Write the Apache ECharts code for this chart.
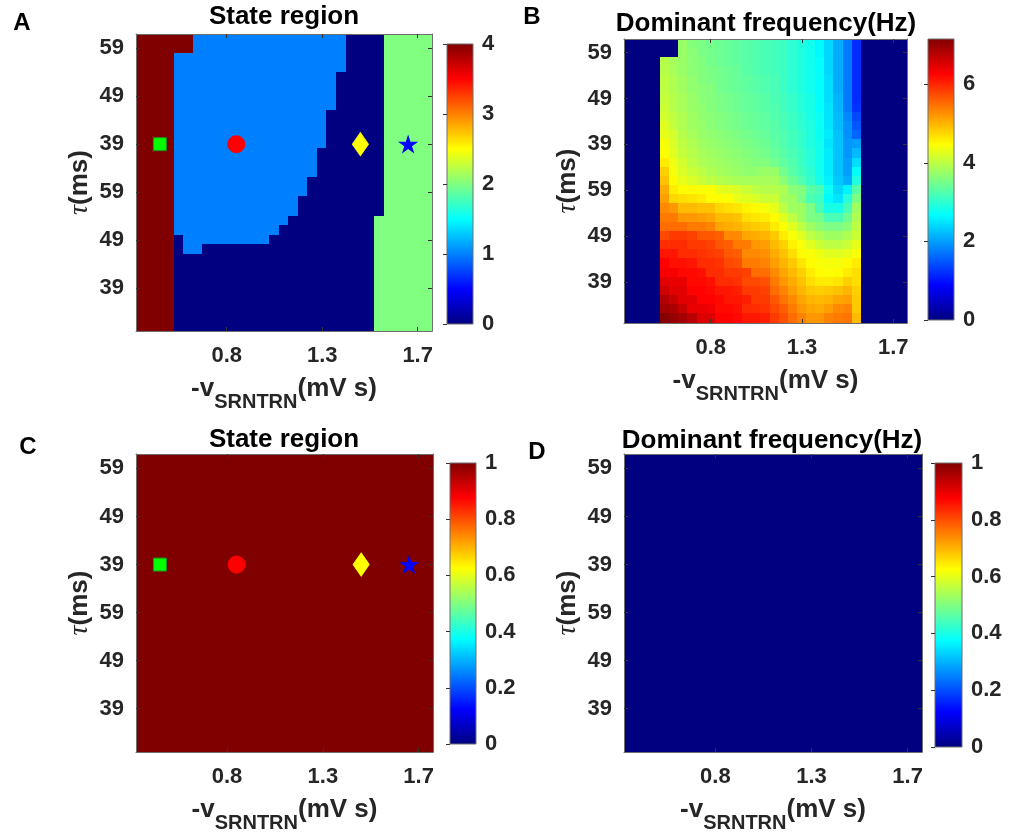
<!DOCTYPE html>
<html>
<head>
<meta charset="utf-8">
<script src="https://cdn.jsdelivr.net/npm/echarts@6/dist/echarts.min.js"></script>
<style>
  html, body { margin: 0; padding: 0; background: #ffffff; }
  #chart { width: 1010px; height: 837px; }
</style>
</head>
<body>
<div id="chart"></div>
<script>
// ---- grid dimensions and tick labels ----
const nCols = 31;
const nRows = 31;
const xTickIndex = [9, 19, 29];
const xTickText = ['0.8', '1.3', '1.7'];
const yTickIndex = [4, 9, 14, 19, 24, 29];
const yTickText = ['39', '49', '59', '39', '49', '59'];

// ---- state region (panel A), rows from top, as [state, run length] ----
const stateARuns = [
  [[4, 6], [1, 16], [0, 4], [2, 5]],
  [[4, 6], [1, 16], [0, 4], [2, 5]],
  [[4, 4], [1, 18], [0, 4], [2, 5]],
  [[4, 4], [1, 18], [0, 4], [2, 5]],
  [[4, 4], [1, 17], [0, 5], [2, 5]],
  [[4, 4], [1, 17], [0, 5], [2, 5]],
  [[4, 4], [1, 17], [0, 5], [2, 5]],
  [[4, 4], [1, 17], [0, 5], [2, 5]],
  [[4, 4], [1, 16], [0, 6], [2, 5]],
  [[4, 4], [1, 16], [0, 6], [2, 5]],
  [[4, 4], [1, 16], [0, 6], [2, 5]],
  [[4, 4], [1, 16], [0, 6], [2, 5]],
  [[4, 4], [1, 15], [0, 7], [2, 5]],
  [[4, 4], [1, 15], [0, 7], [2, 5]],
  [[4, 4], [1, 15], [0, 7], [2, 5]],
  [[4, 4], [1, 14], [0, 8], [2, 5]],
  [[4, 4], [1, 14], [0, 8], [2, 5]],
  [[4, 4], [1, 13], [0, 9], [2, 5]],
  [[4, 4], [1, 13], [0, 9], [2, 5]],
  [[4, 4], [1, 12], [0, 9], [2, 6]],
  [[4, 4], [1, 11], [0, 10], [2, 6]],
  [[4, 4], [0, 1], [1, 9], [0, 11], [2, 6]],
  [[4, 4], [0, 1], [1, 2], [0, 18], [2, 6]],
  [[4, 4], [0, 21], [2, 6]],
  [[4, 4], [0, 21], [2, 6]],
  [[4, 4], [0, 21], [2, 6]],
  [[4, 4], [0, 21], [2, 6]],
  [[4, 4], [0, 21], [2, 6]],
  [[4, 4], [0, 21], [2, 6]],
  [[4, 4], [0, 21], [2, 6]],
  [[4, 4], [0, 21], [2, 6]]
];

// ---- dominant frequency in Hz (panel B), rows from top ----
const freqB = [
  [0,0,0,0, 0,0,3.75,3.6,3.55,3.5,3.45,3.4,3.35,3.3,3.25,3.2,3.15,3.1,3.0,2.9,2.8,2.65,2.4,2.1,1.75,1.2, 0,0,0,0,0],
  [0,0,0,0, 0,0,3.75,3.65,3.55,3.5,3.45,3.4,3.35,3.3,3.25,3.2,3.15,3.1,3.0,2.9,2.8,2.65,2.4,2.1,1.75,1.2, 0,0,0,0,0],
  [0,0,0,0, 3.95,3.85,3.75,3.65,3.6,3.5,3.45,3.4,3.35,3.3,3.25,3.2,3.15,3.1,3.0,2.9,2.8,2.7,2.4,2.1,1.75,1.2, 0,0,0,0,0],
  [0,0,0,0, 3.95,3.85,3.75,3.65,3.6,3.55,3.5,3.45,3.4,3.3,3.25,3.2,3.15,3.1,3.0,2.9,2.8,2.7,2.4,2.1,1.75,1.2, 0,0,0,0,0],
  [0,0,0,0, 4.0,3.9,3.8,3.7,3.6,3.55,3.5,3.45,3.4,3.35,3.3,3.25,3.2,3.1,3.0,2.9,2.8,2.7,2.45,2.1,1.75,1.2, 0,0,0,0,0],
  [0,0,0,0, 4.0,3.9,3.8,3.7,3.65,3.6,3.5,3.45,3.4,3.35,3.3,3.25,3.2,3.1,3.0,2.9,2.8,2.7,2.45,2.1,1.75,1.2, 0,0,0,0,0],
  [0,0,0,0, 4.05,3.95,3.85,3.75,3.65,3.6,3.55,3.5,3.45,3.4,3.35,3.3,3.2,3.15,3.05,2.95,2.85,2.7,2.45,2.15,1.75,1.2, 0,0,0,0,0],
  [0,0,0,0, 4.1,3.95,3.85,3.75,3.7,3.6,3.55,3.5,3.45,3.4,3.35,3.3,3.25,3.15,3.05,2.95,2.85,2.7,2.5,2.15,1.75,1.25, 0,0,0,0,0],
  [0,0,0,0, 4.15,4.0,3.9,3.8,3.7,3.65,3.6,3.55,3.5,3.45,3.4,3.35,3.25,3.2,3.1,3.0,2.85,2.75,2.5,2.2,1.85,1.4, 0,0,0,0,0],
  [0,0,0,0, 4.25,4.05,3.9,3.8,3.75,3.65,3.6,3.55,3.5,3.45,3.4,3.35,3.3,3.2,3.1,3.0,2.9,2.75,2.5,2.2,1.9,1.5, 0,0,0,0,0],
  [0,0,0,0, 4.3,4.15,3.95,3.85,3.75,3.7,3.65,3.6,3.55,3.5,3.45,3.4,3.3,3.25,3.15,3.05,2.9,2.75,2.55,2.25,1.9,1.6, 0,0,0,0,0],
  [0,0,0,0, 4.4,4.2,4.0,3.9,3.8,3.75,3.7,3.65,3.6,3.55,3.5,3.45,3.35,3.25,3.15,3.05,2.9,2.8,2.5,2.25,1.95,2.0, 0,0,0,0,0],
  [0,0,0,0, 4.45,4.25,4.05,3.95,3.85,3.8,3.75,3.7,3.65,3.6,3.55,3.5,3.4,3.3,3.2,3.1,2.95,2.8,2.55,2.25,1.95,2.2, 0,0,0,0,0],
  [0,0,0,0, 4.6,4.35,4.15,4.0,3.9,3.85,3.8,3.75,3.7,3.65,3.6,3.6,3.5,3.35,3.25,3.1,2.95,2.8,2.55,2.25,2.0,2.45, 0,0,0,0,0],
  [0,0,0,0, 4.8,4.4,4.2,4.1,4.0,3.9,3.85,3.8,3.75,3.7,3.7,3.75,3.75,3.5,3.3,3.15,3.0,2.8,2.55,2.25,2.0,2.7, 0,0,0,0,0],
  [0,0,0,0, 4.9,4.5,4.3,4.2,4.1,4.0,3.95,3.9,3.85,3.85,3.85,3.85,3.85,3.65,3.45,3.25,3.05,2.85,2.6,2.3,2.1,2.9, 0,0,0,0,0],
  [0,0,0,0, 5.05,4.6,4.5,4.5,4.45,4.45,4.3,4.25,4.2,4.1,4.0,3.95, 3.95,3.9,3.65,3.6,3.3,3.2,2.75,2.4,2.6,3.3, 0,0,0,0,0],
  [0,0,0,0, 5.15,4.75,4.7,4.65,4.6,4.5,4.5,4.45,4.3,4.25,4.2,4.1, 4.1,3.85,3.8,3.55,3.2,3.1,2.65,2.5,2.95,3.55, 0,0,0,0,0],
  [0,0,0,0, 5.3,5.2,4.95,4.95,4.9,4.9,4.75,4.7,4.65,4.55,4.5,4.4, 4.3,4.0,3.8,3.8,3.55,3.2,2.85,2.85,3.2,3.8, 0,0,0,0,0],
  [0,0,0,0, 5.4,5.4,5.2,5.2,5.15,5.1,4.95,4.95,4.9,4.7,4.65,4.6, 4.5,4.25,4.0,3.8,3.55,3.5,3.2,3.2,3.45,3.9, 0,0,0,0,0],
  [0,0,0,0, 5.5,5.5,5.5,5.4,5.4,5.35,5.1,5.05,5.0,4.9,4.85,4.8, 4.6,4.45,4.25,4.0,3.8,3.65,3.55,3.55,3.65,4.0, 0,0,0,0,0],
  [0,0,0,0, 5.75,5.85,5.85,5.8,5.65,5.65,5.6,5.3,5.3,5.1,5.05,5.0, 4.85,4.6,4.42,4.25,4.0,3.9,3.8,3.8,3.9,4.1, 0,0,0,0,0],
  [0,0,0,0, 5.95,5.95,5.95,5.85,5.85,5.8,5.65,5.6,5.4,5.4,5.2,5.15, 4.95,4.8,4.55,4.42,4.25,4.1,4.0,4.0,4.1,4.3, 0,0,0,0,0],
  [0,0,0,0, 6.1,6.1,5.95,5.95,5.9,5.85,5.8,5.65,5.6,5.3,5.3,5.25, 5.05,4.9,4.7,4.5,4.42,4.35,4.25,4.25,4.3,4.42, 0,0,0,0,0],
  [0,0,0,0, 6.25,6.15,6.15,6.1,5.95,5.95,5.9,5.75,5.7,5.4,5.4,5.35, 5.15,5.0,4.85,4.65,4.5,4.42,4.4,4.4,4.5,4.6, 0,0,0,0,0],
  [0,0,0,0, 6.3,6.3,6.2,6.2,6.15,5.95,5.95,5.85,5.85,5.8,5.5,5.5, 5.3,5.1,4.95,4.8,4.6,4.5,4.45,4.5,4.6,4.7, 0,0,0,0,0],
  [0,0,0,0, 6.45,6.4,6.4,6.2,6.2,6.15,5.95,5.95,5.9,5.75,5.75,5.7, 5.4,5.2,5.05,4.9,4.7,4.6,4.6,4.65,4.8,4.7, 0,0,0,0,0],
  [0,0,0,0, 6.6,6.45,6.45,6.25,6.25,6.2,6.1,6.1,6.05,5.85,5.85,5.8, 5.5,5.35,5.15,5.0,4.85,4.8,4.85,4.9,5.0,4.8, 0,0,0,0,0],
  [0,0,0,0, 6.8,6.65,6.45,6.45,6.25,6.25,6.2,6.1,6.1,6.05,5.85,5.85, 5.65,5.45,5.3,5.1,5.0,4.95,5.0,5.1,5.15,4.85, 0,0,0,0,0],
  [0,0,0,0, 6.9,6.85,6.65,6.4,6.4,6.35,6.2,6.2,6.15,5.95,5.95,5.9, 5.75,5.6,5.4,5.2,5.1,5.05,5.15,5.3,5.35,4.85, 0,0,0,0,0],
  [0,0,0,0, 7.1,7.0,6.9,6.75,6.5,6.5,6.25,6.25,6.2,6.1,6.1,6.05, 5.85,5.7,5.5,5.35,5.2,5.2,5.35,5.4,5.45,4.95, 0,0,0,0,0]
];

// ---- state region (panel C) and dominant frequency (panel D), rows from top ----
const stateCRuns = [
  [[1, 31]], [[1, 31]], [[1, 31]], [[1, 31]], [[1, 31]], [[1, 31]], [[1, 31]], [[1, 31]],
  [[1, 31]], [[1, 31]], [[1, 31]], [[1, 31]], [[1, 31]], [[1, 31]], [[1, 31]], [[1, 31]],
  [[1, 31]], [[1, 31]], [[1, 31]], [[1, 31]], [[1, 31]], [[1, 31]], [[1, 31]], [[1, 31]],
  [[1, 31]], [[1, 31]], [[1, 31]], [[1, 31]], [[1, 31]], [[1, 31]], [[1, 31]]
];
const freqDRuns = [
  [[0, 31]], [[0, 31]], [[0, 31]], [[0, 31]], [[0, 31]], [[0, 31]], [[0, 31]], [[0, 31]],
  [[0, 31]], [[0, 31]], [[0, 31]], [[0, 31]], [[0, 31]], [[0, 31]], [[0, 31]], [[0, 31]],
  [[0, 31]], [[0, 31]], [[0, 31]], [[0, 31]], [[0, 31]], [[0, 31]], [[0, 31]], [[0, 31]],
  [[0, 31]], [[0, 31]], [[0, 31]], [[0, 31]], [[0, 31]], [[0, 31]], [[0, 31]]
];

// ---- example points (cell indices, y counted from bottom) ----
const markerCol = [2, 10, 23, 28];
const markerRow = [19, 19, 19, 19];

// ---- colour scale ranges ----
const scaleMax = [4, 7.15, 1, 1];
const scaleStep = [1, 2, 0.2, 0.2];

// ---------------------------------------------------------------
const FONT = "'Liberation Sans', Arial, Helvetica, sans-serif";
const TXT = '#262626';
const FRAME = '#6e6e6e';
const jet = ['#000080', '#0000FF', '#0080FF', '#00FFFF', '#80FF80', '#FFFF00', '#FF8000', '#FF0000', '#800000'];

const markerStyle = [
  { symbol: 'rect', size: [13, 13], color: '#00FF00', border: '#1f8f1f' },
  { symbol: 'circle', size: [17, 17], color: '#FF0000', border: '#FF0000' },
  { symbol: 'diamond', size: [16, 23], color: '#FFFF00', border: '#FFFF00' },
  { symbol: 'path://M50,0 L61.2,34.5 L97.6,34.5 L68.2,55.9 L79.4,90.5 L50,69.1 L20.6,90.5 L31.8,55.9 L2.4,34.5 L38.8,34.5 Z', size: [17, 16], color: '#0000FF', border: '#0000FF' }
];

const layout = [
  { grid: { left: 136, top: 34, width: 296, height: 297 }, bar: { left: 447, top: 44, width: 26, height: 280 } },
  { grid: { left: 624, top: 39, width: 283, height: 284 }, bar: { left: 928, top: 39, width: 26, height: 281 } },
  { grid: { left: 136, top: 454, width: 297, height: 298 }, bar: { left: 450, top: 463, width: 26, height: 281 } },
  { grid: { left: 624, top: 454, width: 298, height: 298 }, bar: { left: 935, top: 463, width: 27, height: 284 } }
];

function expandRuns(rows) {
  return rows.map(row => row.flatMap(([v, n]) => new Array(n).fill(v)));
}
function toCells(rows) {
  const cells = [];
  rows.forEach((row, r) => row.forEach((v, c) => cells.push([c, nRows - 1 - r, v])));
  return cells;
}

const fields = [
  toCells(expandRuns(stateARuns)),
  toCells(freqB),
  toCells(expandRuns(stateCRuns)),
  toCells(expandRuns(freqDRuns))
];

const cats = Array.from({ length: nCols }, (_, i) => String(i));
const xShow = i => xTickIndex.indexOf(i) >= 0;
const yShow = i => yTickIndex.indexOf(i) >= 0;

const jetGradient = {
  type: 'linear', x: 0, y: 0, x2: 0, y2: 1,
  colorStops: jet.slice().reverse().map((c, i) => ({ offset: i / (jet.length - 1), color: c }))
};

// image-style cells: each cell covers its category band, snapped outward to whole
// pixels so that neighbouring cells leave no anti-aliasing seams
function renderCell(params, api) {
  const c = api.coord([api.value(0), api.value(1)]);
  const s = api.size([1, 1]);
  const x0 = Math.floor(c[0] - s[0] / 2), x1 = Math.ceil(c[0] + s[0] / 2);
  const y0 = Math.floor(c[1] - s[1] / 2), y1 = Math.ceil(c[1] + s[1] / 2);
  return {
    type: 'rect',
    shape: { x: x0, y: y0, width: x1 - x0, height: y1 - y0 },
    style: { fill: api.visual('color') }
  };
}

const grids = [], xAxes = [], yAxes = [], series = [], visualMaps = [];

const xName = {
  name: '{a|-v}{b|SRNTRN}{a|(mV s)}',
  nameLocation: 'middle',
  nameGap: 45,
  nameTextStyle: {
    rich: {
      a: { fontFamily: FONT, fontWeight: 'bold', fontSize: 26, color: TXT, lineHeight: 30, verticalAlign: 'top' },
      b: { fontFamily: FONT, fontWeight: 'bold', fontSize: 20, color: TXT, lineHeight: 20, padding: [16, 0, 0, 0], verticalAlign: 'top' }
    }
  }
};
const yName = {
  name: '{t|\u03C4}{a|(ms)}',
  nameLocation: 'middle',
  nameGap: 41,
  nameTextStyle: {
    rich: {
      t: { fontFamily: "'Liberation Serif', 'DejaVu Serif', serif", fontStyle: 'italic', fontSize: 28, color: TXT, lineHeight: 30 },
      a: { fontFamily: FONT, fontWeight: 'bold', fontSize: 26, color: TXT, lineHeight: 30 }
    }
  }
};

layout.forEach((p, k) => {
  grids.push(Object.assign({ containLabel: false }, p.grid));
  const baseTick = { show: true, inside: true, length: 4, lineStyle: { color: '#333', width: 1 } };
  // bottom / top
  xAxes.push(Object.assign({
    gridIndex: k, type: 'category', data: cats, position: 'bottom', z: 10,
    axisLine: { show: true, lineStyle: { color: FRAME, width: 1 } },
    axisTick: Object.assign({ alignWithLabel: true, interval: xShow }, baseTick),
    axisLabel: { interval: xShow, formatter: (v, i) => xTickText[xTickIndex.indexOf(i)] || '',
      fontFamily: FONT, fontWeight: 'bold', fontSize: 22, color: TXT, margin: 14 },
    splitLine: { show: false }
  }, xName));
  xAxes.push({
    gridIndex: k, type: 'category', data: cats, position: 'top', z: 10,
    axisLine: { show: true, lineStyle: { color: FRAME, width: 1 } },
    axisTick: Object.assign({ alignWithLabel: true, interval: xShow }, baseTick),
    axisLabel: { show: false }, splitLine: { show: false }
  });
  // left / right
  yAxes.push(Object.assign({
    gridIndex: k, type: 'category', data: cats, position: 'left', z: 10,
    axisLine: { show: true, lineStyle: { color: FRAME, width: 1 } },
    axisTick: Object.assign({ alignWithLabel: true, interval: yShow }, baseTick),
    axisLabel: { interval: yShow, formatter: (v, i) => yTickText[yTickIndex.indexOf(i)] || '',
      fontFamily: FONT, fontWeight: 'bold', fontSize: 22, color: TXT, margin: 12 },
    splitLine: { show: false }
  }, yName));
  yAxes.push({
    gridIndex: k, type: 'category', data: cats, position: 'right', z: 10,
    axisLine: { show: true, lineStyle: { color: FRAME, width: 1 } },
    axisTick: Object.assign({ alignWithLabel: true, interval: yShow }, baseTick),
    axisLabel: { show: false }, splitLine: { show: false }
  });

  series.push({
    type: 'custom', xAxisIndex: 2 * k, yAxisIndex: 2 * k, data: fields[k],
    dimensions: ['col', 'row', 'value'], encode: { x: 0, y: 1 },
    renderItem: renderCell, clip: true, silent: true, z: 1, progressive: 0
  });
  visualMaps.push({
    type: 'continuous', show: false, seriesIndex: k, dimension: 2,
    min: 0, max: scaleMax[k], inRange: { color: jet }
  });
});

// colour bars
layout.forEach((p, k) => {
  const gi = grids.length;
  grids.push(Object.assign({ show: true, backgroundColor: jetGradient, borderColor: FRAME, borderWidth: 1 }, p.bar));
  xAxes.push({ gridIndex: gi, type: 'value', min: 0, max: 1, show: false });
  yAxes.push({
    gridIndex: gi, type: 'value', position: 'right', min: 0, max: scaleMax[k], interval: scaleStep[k],
    axisLine: { show: false },
    axisTick: { show: true, inside: true, length: 4, lineStyle: { color: '#333', width: 1 } },
    axisLabel: { fontFamily: FONT, fontWeight: 'bold', fontSize: 22, color: TXT, margin: 9,
      showMaxLabel: k === 1 ? false : true, formatter: v => String(Math.round(v * 10) / 10) },
    splitLine: { show: false }
  });
});

// example points on the state maps
[0, 2].forEach(k => {
  markerCol.forEach((c, i) => {
    const s = markerStyle[i];
    series.push({
      type: 'scatter', xAxisIndex: 2 * k, yAxisIndex: 2 * k,
      data: [[String(c), String(markerRow[i])]],
      symbol: s.symbol, symbolSize: s.size, symbolKeepAspect: false,
      itemStyle: { color: s.color, borderColor: s.border, borderWidth: 1, opacity: 1 },
      silent: true, z: 5
    });
  });
});

const titleFont = 'bold 26px ' + FONT;
const letterFont = 'bold 24px ' + FONT;
function label(x, y, text, font) {
  return { type: 'text', x: x, y: y, silent: true,
    style: { text: text, font: font, fill: '#000', align: 'center', verticalAlign: 'middle',
      textAlign: 'center', textVerticalAlign: 'middle' } };
}

const chart = echarts.init(document.getElementById('chart'), null, { renderer: 'canvas' });
chart.setOption({
  backgroundColor: '#ffffff',
  animation: false,
  grid: grids,
  xAxis: xAxes,
  yAxis: yAxes,
  visualMap: visualMaps,
  series: series,
  graphic: [
    label(284, 17, 'State region', titleFont),
    label(766, 24, 'Dominant frequency(Hz)', titleFont),
    label(284, 440, 'State region', titleFont),
    label(772, 441, 'Dominant frequency(Hz)', titleFont),
    label(22, 23, 'A', letterFont),
    label(532, 17, 'B', letterFont),
    label(28, 447, 'C', letterFont),
    label(537, 452, 'D', letterFont)
  ]
});
</script>
</body>
</html>
